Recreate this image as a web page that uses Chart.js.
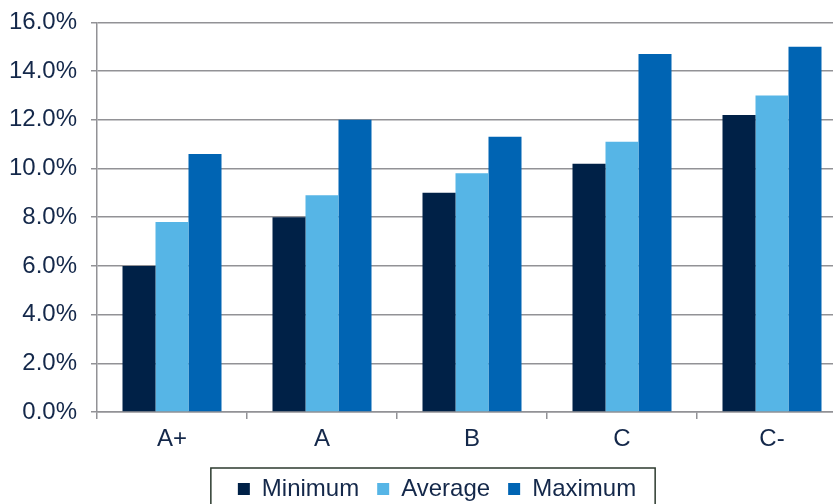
<!DOCTYPE html>
<html>
<head>
<meta charset="utf-8">
<script src="https://cdn.jsdelivr.net/npm/chart.js@4/dist/chart.umd.min.js"></script>
<style>
  html, body { margin: 0; padding: 0; background: #fff; overflow: hidden; }
  #wrap { width: 874px; height: 511px; }
</style>
</head>
<body>
<div id="wrap"><canvas id="rateChart" width="874" height="511"></canvas></div>
<script>
const categories = ["A+", "A", "B", "C", "C-"];
const minimum = [6.0, 8.0, 9.0, 10.2, 12.2];
const average = [7.8, 8.9, 9.8, 11.1, 13.0];
const maximum = [10.6, 12.0, 11.3, 14.7, 15.0];
const yTicks = [0, 2, 4, 6, 8, 10, 12, 14, 16];

const textColor = "#14284a";
const gridColor = "#929296";
const fontFamily = "'Liberation Sans', Arial, sans-serif";

// box drawn round the legend, like the original
const legendBorder = {
  id: "legendBorder",
  afterDraw(chart) {
    const boxes = chart.legend.legendHitBoxes;
    if (!boxes || !boxes.length) return;
    const first = boxes[0];
    const last = boxes[boxes.length - 1];
    const ctx = chart.ctx;
    ctx.save();
    ctx.strokeStyle = "#2c3a2e";
    ctx.lineWidth = 1.5;
    const left = first.left - 27;
    const right = last.left + last.width + 19;
    const top = first.top - 9;
    ctx.strokeRect(left, top, right - left, 60);
    ctx.restore();
  }
};

const ctx = document.getElementById("rateChart").getContext("2d");
new Chart(ctx, {
  type: "bar",
  data: {
    labels: categories,
    datasets: [
      { label: "Minimum", data: minimum, backgroundColor: "#002147" },
      { label: "Average", data: average, backgroundColor: "#56b5e6" },
      { label: "Maximum", data: maximum, backgroundColor: "#0064b3" }
    ]
  },
  options: {
    responsive: false,
    animation: false,
    layout: { padding: { top: 21, right: 27, bottom: 0, left: 27 } },
    datasets: {
      bar: { categoryPercentage: 0.66, barPercentage: 1.0 }
    },
    plugins: {
      tooltip: { enabled: false },
      legend: {
        position: "bottom",
        labels: {
          boxWidth: 12,
          boxHeight: 12,
          padding: 18,
          color: textColor,
          font: { family: fontFamily, size: 24 }
        }
      }
    },
    scales: {
      x: {
        grid: { offset: true, drawOnChartArea: false, color: gridColor, lineWidth: 1.5, tickLength: 7 },
        border: { color: gridColor, width: 1.5 },
        ticks: { color: textColor, font: { family: fontFamily, size: 24 }, padding: 6 },
        afterFit(scale) { scale.height = 47; }
      },
      y: {
        min: 0,
        max: 16,
        afterBuildTicks(scale) { scale.ticks = yTicks.map(v => ({ value: v })); },
        grid: { color: gridColor, lineWidth: 1.5, tickLength: 6 },
        border: { color: gridColor, width: 1.5 },
        ticks: {
          color: textColor,
          font: { family: fontFamily, size: 24, lineHeight: 0.7 },
          padding: 14,
          callback: v => v.toFixed(1) + "%"
        },
        afterFit(scale) {
          scale.width = 70;
          // labels reach into the left padding, don't clip them
          scale._computeLabelArea = () => undefined;
        }
      }
    }
  },
  plugins: [legendBorder]
});
</script>
</body>
</html>
